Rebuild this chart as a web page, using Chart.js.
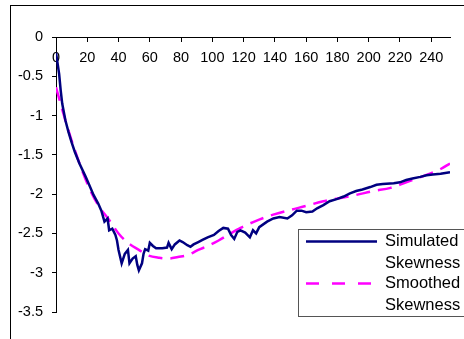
<!DOCTYPE html>
<html>
<head>
<meta charset="utf-8">
<script src="https://cdn.jsdelivr.net/npm/chart.js@4"></script>
<style>
  html, body { margin: 0; padding: 0; background: #fff; }
</style>
</head>
<body>
<canvas id="chart" width="464" height="339"></canvas>
<script>
// series (day, skewness)
var simDays = [0, 2, 3, 4, 6, 8, 10, 12, 15, 19, 21, 24, 27, 29, 31, 33, 34, 36, 38, 39,
  40, 42, 44, 46, 47, 49, 51, 52, 53, 55, 56, 57, 59, 60, 62, 64, 68, 71, 72, 74,
  76, 79, 81, 84, 86, 88, 91, 94, 97, 101, 104, 107, 110, 112, 114, 116, 118, 121, 124, 126,
  128, 130, 135, 139, 143, 148, 151, 154, 157, 160, 164, 167, 171, 175, 180, 184, 188, 192, 196, 201,
  205, 209, 216, 220, 224, 228, 233, 237, 241, 246, 252];
var simValues = [-0.2, -0.47, -0.68, -0.85, -1.06, -1.21, -1.34, -1.46, -1.61, -1.78, -1.87, -2.01, -2.12, -2.21, -2.35, -2.31, -2.46, -2.44, -2.52, -2.59,
  -2.71, -2.88, -2.76, -2.71, -2.88, -2.82, -2.79, -2.9, -2.97, -2.88, -2.76, -2.7, -2.72, -2.62, -2.66, -2.69, -2.69, -2.68, -2.62, -2.7,
  -2.64, -2.59, -2.61, -2.65, -2.67, -2.64, -2.61, -2.58, -2.55, -2.52, -2.47, -2.43, -2.44, -2.52, -2.57, -2.48, -2.46, -2.49, -2.55, -2.46,
  -2.5, -2.42, -2.35, -2.31, -2.29, -2.31, -2.27, -2.21, -2.21, -2.23, -2.22, -2.18, -2.14, -2.09, -2.06, -2.03, -1.99, -1.96, -1.94, -1.91,
  -1.88, -1.87, -1.86, -1.85, -1.82, -1.8, -1.78, -1.76, -1.75, -1.74, -1.72];

var smoothDays = [0, 6, 12, 21, 27, 34, 40, 46, 53, 59, 66, 72, 78, 85, 91, 97, 104, 110, 118, 128,
  139, 150, 160, 171, 182, 192, 203, 214, 224, 235, 246, 252];
var smoothValues = [-0.64, -1.06, -1.44, -1.91, -2.14, -2.33, -2.5, -2.62, -2.71, -2.78, -2.81, -2.82, -2.8, -2.77, -2.71, -2.66, -2.59, -2.52, -2.43, -2.34,
  -2.26, -2.2, -2.15, -2.09, -2.05, -2.01, -1.96, -1.92, -1.85, -1.77, -1.68, -1.61];

var seriesNames = [["Simulated", "Skewness"], ["Smoothed", "Skewness"]];
var xTicks = [0, 20, 40, 60, 80, 100, 120, 140, 160, 180, 200, 220, 240];
var yTicks = [0, -0.5, -1, -1.5, -2, -2.5, -3, -3.5];

function toPoints(xs, ys) {
  return xs.map(function (x, i) { return { x: x, y: ys[i] }; });
}

var fontFamily = "'Liberation Sans', Arial, sans-serif";

// outer frame + legend box, drawn the Excel way
var framePlugin = {
  id: "frame",
  beforeDraw: function (chart) {
    var ctx = chart.ctx;
    ctx.save();
    ctx.strokeStyle = "#000";
    ctx.lineWidth = 1;
    ctx.strokeRect(10.5, 5.5, 500, 400);
    ctx.restore();
  },
  afterDraw: function (chart) {
    var ctx = chart.ctx, area = chart.chartArea;
    var left = Math.round(area.right - 152) + 0.5;
    var top = Math.round(area.bottom - 83) + 0.5;
    ctx.save();
    ctx.fillStyle = "#fff";
    ctx.strokeStyle = "#555";
    ctx.lineWidth = 1;
    ctx.fillRect(left, top, 200, 87);
    ctx.strokeRect(left, top, 200, 87);
    ctx.font = "16.5px " + fontFamily;
    ctx.fillStyle = "#000";
    ctx.textBaseline = "middle";
    chart.data.datasets.forEach(function (ds, i) {
      var y = top + 12 + i * 42;
      ctx.strokeStyle = ds.borderColor;
      ctx.lineWidth = ds.borderWidth;
      ctx.setLineDash(i === 1 ? [13, 13] : []);
      ctx.beginPath();
      ctx.moveTo(left + 7.5, y);
      ctx.lineTo(left + 78.5, y);
      ctx.stroke();
      ctx.setLineDash([]);
      seriesNames[i].forEach(function (line, j) {
        ctx.fillText(line, left + 86.5, y + j * 21.5);
      });
    });
    ctx.restore();
  }
};

var tickFont = { family: fontFamily, size: 14.5 };

var myChart = new Chart("chart", {
  type: "line",
  data: {
    datasets: [{
      label: seriesNames[0].join(" "),
      data: toPoints(simDays, simValues),
      borderColor: "#000080",
      borderWidth: 2.5,
      pointRadius: 0,
      tension: 0
    }, {
      label: seriesNames[1].join(" "),
      data: toPoints(smoothDays, smoothValues),
      borderColor: "#ff00ff",
      borderWidth: 2.5,
      borderDash: [14, 8],
      pointRadius: 0,
      cubicInterpolationMode: "monotone"
    }]
  },
  options: {
    responsive: false,
    animation: false,
    layout: { padding: { left: 0, top: 37, right: 14, bottom: 27 } },
    plugins: { legend: { display: false }, tooltip: { enabled: false } },
    scales: {
      x: {
        type: "linear",
        min: 0,
        max: 252,
        position: { y: 0 },
        afterBuildTicks: function (s) { s.ticks = xTicks.map(function (v) { return { value: v }; }); },
        grid: { drawOnChartArea: false, tickLength: 4, color: "#000" },
        border: { color: "#000" },
        ticks: { padding: 8, color: "#000", font: tickFont, maxRotation: 0, autoSkip: false }
      },
      y: {
        min: -3.5,
        max: 0,
        afterBuildTicks: function (s) { s.ticks = yTicks.map(function (v) { return { value: v }; }); },
        afterFit: function (s) { s.width = 56; },
        grid: { drawOnChartArea: false, tickLength: 4, color: "#000" },
        border: { color: "#000" },
        ticks: { padding: 9, color: "#000", font: tickFont, callback: function (v) { return String(v); } }
      }
    }
  },
  plugins: [framePlugin]
});
</script>
</body>
</html>
